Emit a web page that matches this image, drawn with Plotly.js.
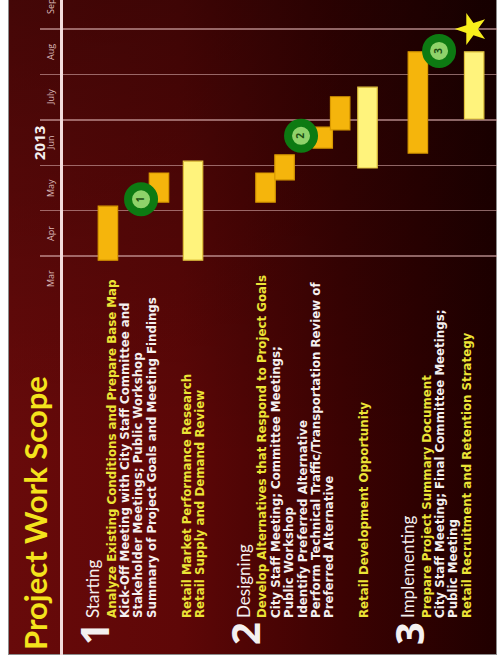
<!DOCTYPE html>
<html>
<head>
<meta charset="utf-8">
<script src="https://cdn.plot.ly/plotly-3.0.1.min.js"></script>
<style>
  html, body { margin:0; padding:0; background:#ffffff; width:502px; height:660px; overflow:hidden; }
  #stage { position:absolute; left:0; top:0; width:660px; height:502px;
           transform-origin:0 0; transform:translate(0px,660px) rotate(-90deg); background:#ffffff; }
  #slide { position:absolute; left:5px; top:8px; width:660px; height:489px;
           border:1px solid #8c8c8c; border-right:none; box-sizing:border-box;
           background:
             linear-gradient(to right, rgba(0,0,0,0) 30%, rgba(0,0,0,0.35) 100%),
             linear-gradient(to bottom, #680a0a 0%, #5e0707 35%, #3c0202 68%, #200000 100%); }
  #chart { position:absolute; left:0; top:0; width:660px; height:502px; }
  #rule { position:absolute; left:5px; top:60px; width:660px; height:3px; background:#f3dcdc; z-index:5; }
</style>
</head>
<body>
<div id="stage">
  <div id="slide"></div>
  <div id="chart"></div>
  <div id="rule"></div>
</div>
<script>
// ---------- data ----------
const chartTitle = 'Project Work Scope';
const yearLabel = '2013';
const months = ['Mar', 'Apr', 'May', 'Jun', 'July', 'Aug', 'Sep'];   // month index 0 = start of March

const phaseNumbers = ['1', '2', '3'];
const phaseNames = ['Starting', 'Designing', 'Implementing'];

const startingItems = ['Analyze Existing Conditions and Prepare Base Map',
  'Kick-Off Meeting with City Staff Committee and',
  'Stakeholder Meetings; Public Workshop',
  'Summary of Project Goals and Meeting Findings',
  '',
  'Retail Market Performance Research',
  'Retail Supply and Demand Review'];
const startingKinds = ['task', 'meeting', 'meeting', 'meeting', '', 'retail', 'retail'];

const designingItems = ['Develop Alternatives that Respond to Project Goals',
  'City Staff Meeting; Committee Meetings;',
  'Public Workshop',
  'Identify Preferred Alternative',
  'Perform Technical Traffic/Transportation Review of',
  'Preferred Alternative',
  '',
  'Retail Development Opportunity'];
const designingKinds = ['task', 'meeting', 'meeting', 'meeting', 'meeting', 'meeting', '', 'retail'];

const implementingItems = ['Prepare Project Summary Document',
  'City Staff Meeting; Final Committee Meetings;',
  'Public Meeting',
  'Retail Recruitment and Retention Strategy'];
const implementingKinds = ['task', 'meeting', 'meeting', 'retail'];

// Gantt bars (months from 1 March 2013), lane = row in the task list
const barTask  = ['Analyze Existing Conditions', 'Kick-Off / Stakeholder Meetings', 'Retail Market & Supply Research',
                  'Develop Alternatives', 'City Staff / Committee Meetings', 'Identify Preferred Alternative',
                  'Technical Traffic Review', 'Retail Development Opportunity', 'Project Summary / Final Meetings',
                  'Retail Recruitment and Retention'];
const barStart = [0.91, 2.19, 0.91, 2.19, 2.68, 3.38, 3.78, 2.94, 3.27, 4.02];
const barEnd   = [2.10, 2.83, 3.09, 2.83, 3.23, 3.84, 4.51, 4.72, 5.50, 5.50];
const barLane  = [5.07, 8.88, 11.42, 16.83, 18.25, 21.1, 22.4, 24.44, 28.2, 32.4];
const barKind  = ['work', 'work', 'retail', 'work', 'work', 'work', 'work', 'retail', 'work', 'retail'];

const milestoneLabel = ['1', '2', '3'];
const milestoneMonth = [2.25, 3.65, 5.52];
const milestoneLane  = [7.54, 19.48, 29.78];

const finishMonth = [6.0];
const finishLane  = [32.2];

// ---------- styles ----------
const YELLOW = '#ece436';
const WHITE = '#f4f0f0';
const ORANGE = '#f5b50c';
const PALE = '#fff37c';
const GRID = 'rgba(214,168,168,0.6)';

// ---------- build ----------
const traces = [];
['work', 'retail'].forEach(kind => {
  const idx = barKind.map((k, i) => k === kind ? i : -1).filter(i => i >= 0);
  traces.push({
    type: 'bar', orientation: 'h',
    y: idx.map(i => barLane[i]),
    base: idx.map(i => barStart[i]),
    x: idx.map(i => barEnd[i] - barStart[i]),
    text: idx.map(i => barTask[i]),
    textposition: 'none',
    width: 1.45,
    marker: { color: kind === 'work' ? ORANGE : PALE,
              line: { color: kind === 'work' ? '#d99a00' : '#e0c23c', width: 1.2 } },
    hoverinfo: 'skip'
  });
});
traces.push({
  type: 'scatter', mode: 'markers+text',
  x: milestoneMonth, y: milestoneLane, text: milestoneLabel,
  textposition: 'middle center',
  textfont: { family: 'Open Sans', size: 10, color: '#1c4d12', weight: 'bold' },
  marker: { size: 26, color: '#8fd26a', line: { color: '#0d7a12', width: 8 } },
  hoverinfo: 'skip'
});
traces.push({
  type: 'scatter', mode: 'markers',
  x: finishMonth, y: finishLane,
  marker: { symbol: 'star', size: 24, color: '#f8ee1c', line: { width: 0 } },
  hoverinfo: 'skip'
});

const annotations = [];
const textX = (40 - 5) / 655;
const numX = (26 - 5) / 655;
const phases = [
  [startingItems, startingKinds],
  [designingItems, designingKinds],
  [implementingItems, implementingKinds]
];
let lane = 3.9;
phases.forEach((ph, p) => {
  annotations.push({ xref: 'paper', yref: 'y', x: numX, y: lane + 0.1, xanchor: 'center', yanchor: 'middle',
    text: '<b>' + phaseNumbers[p] + '</b>', showarrow: false,
    font: { family: 'Open Sans', size: 40, color: WHITE } });
  annotations.push({ xref: 'paper', yref: 'y', x: textX, y: lane, xanchor: 'left', yanchor: 'middle',
    text: phaseNames[p], showarrow: false,
    font: { family: 'Lato', size: 17, color: WHITE } });
  lane += 1.45;
  ph[0].forEach((t, i) => {
    if (!t) { lane += 1.6; return; }
    annotations.push({ xref: 'paper', yref: 'y', x: textX, y: lane, xanchor: 'left', yanchor: 'middle',
      text: '<b>' + t + '</b>', showarrow: false,
      font: { family: 'DejaVu Sans', size: 11.8, color: ph[1][i] === 'meeting' ? WHITE : YELLOW } });
    lane += 1;
  });
  lane += 2.2;
});
// month labels (centred in each month column) and the year
months.forEach((m, i) => {
  annotations.push({ xref: 'x', yref: 'paper', x: i + 0.5, y: 1 - 10 / 457, xanchor: 'center', yanchor: 'middle',
    text: m, showarrow: false, font: { family: 'Open Sans', size: 9, color: '#dcb8b8' } });
});
annotations.push({ xref: 'x', yref: 'paper', x: months.indexOf('Jun') + 0.5, y: 1 + 1 / 457, xanchor: 'center', yanchor: 'middle',
  text: '<b>' + yearLabel + '</b>', showarrow: false,
  font: { family: 'Open Sans', size: 15, color: WHITE } });

const layout = {
  width: 660, height: 502,
  margin: { l: 5, r: 0, t: 40, b: 5, pad: 0 },
  paper_bgcolor: 'rgba(0,0,0,0)', plot_bgcolor: 'rgba(0,0,0,0)',
  showlegend: false, barmode: 'overlay', hovermode: false,
  title: { text: chartTitle, xref: 'container', yref: 'container', x: 10 / 660, xanchor: 'left',
           y: 1 - 36 / 502, yanchor: 'middle',
           font: { family: 'Lato', size: 31, color: '#f4e31c', weight: 'bold' } },
  xaxis: {
    range: [(5 - 358.5) / 45.4, (660 - 358.5) / 45.4],
    tickvals: months.slice(1).map((m, i) => i + 1),   // month boundaries
    showticklabels: false, ticks: '',
    showgrid: true, gridcolor: GRID, gridwidth: 1.5,
    zeroline: false, showline: false,
    fixedrange: true
  },
  yaxis: { range: [34.104, 0], visible: false, showgrid: false, zeroline: false, fixedrange: true },
  annotations: annotations
};

Plotly.newPlot('chart', traces, layout, { displayModeBar: false, staticPlot: true });
</script>
</body>
</html>
